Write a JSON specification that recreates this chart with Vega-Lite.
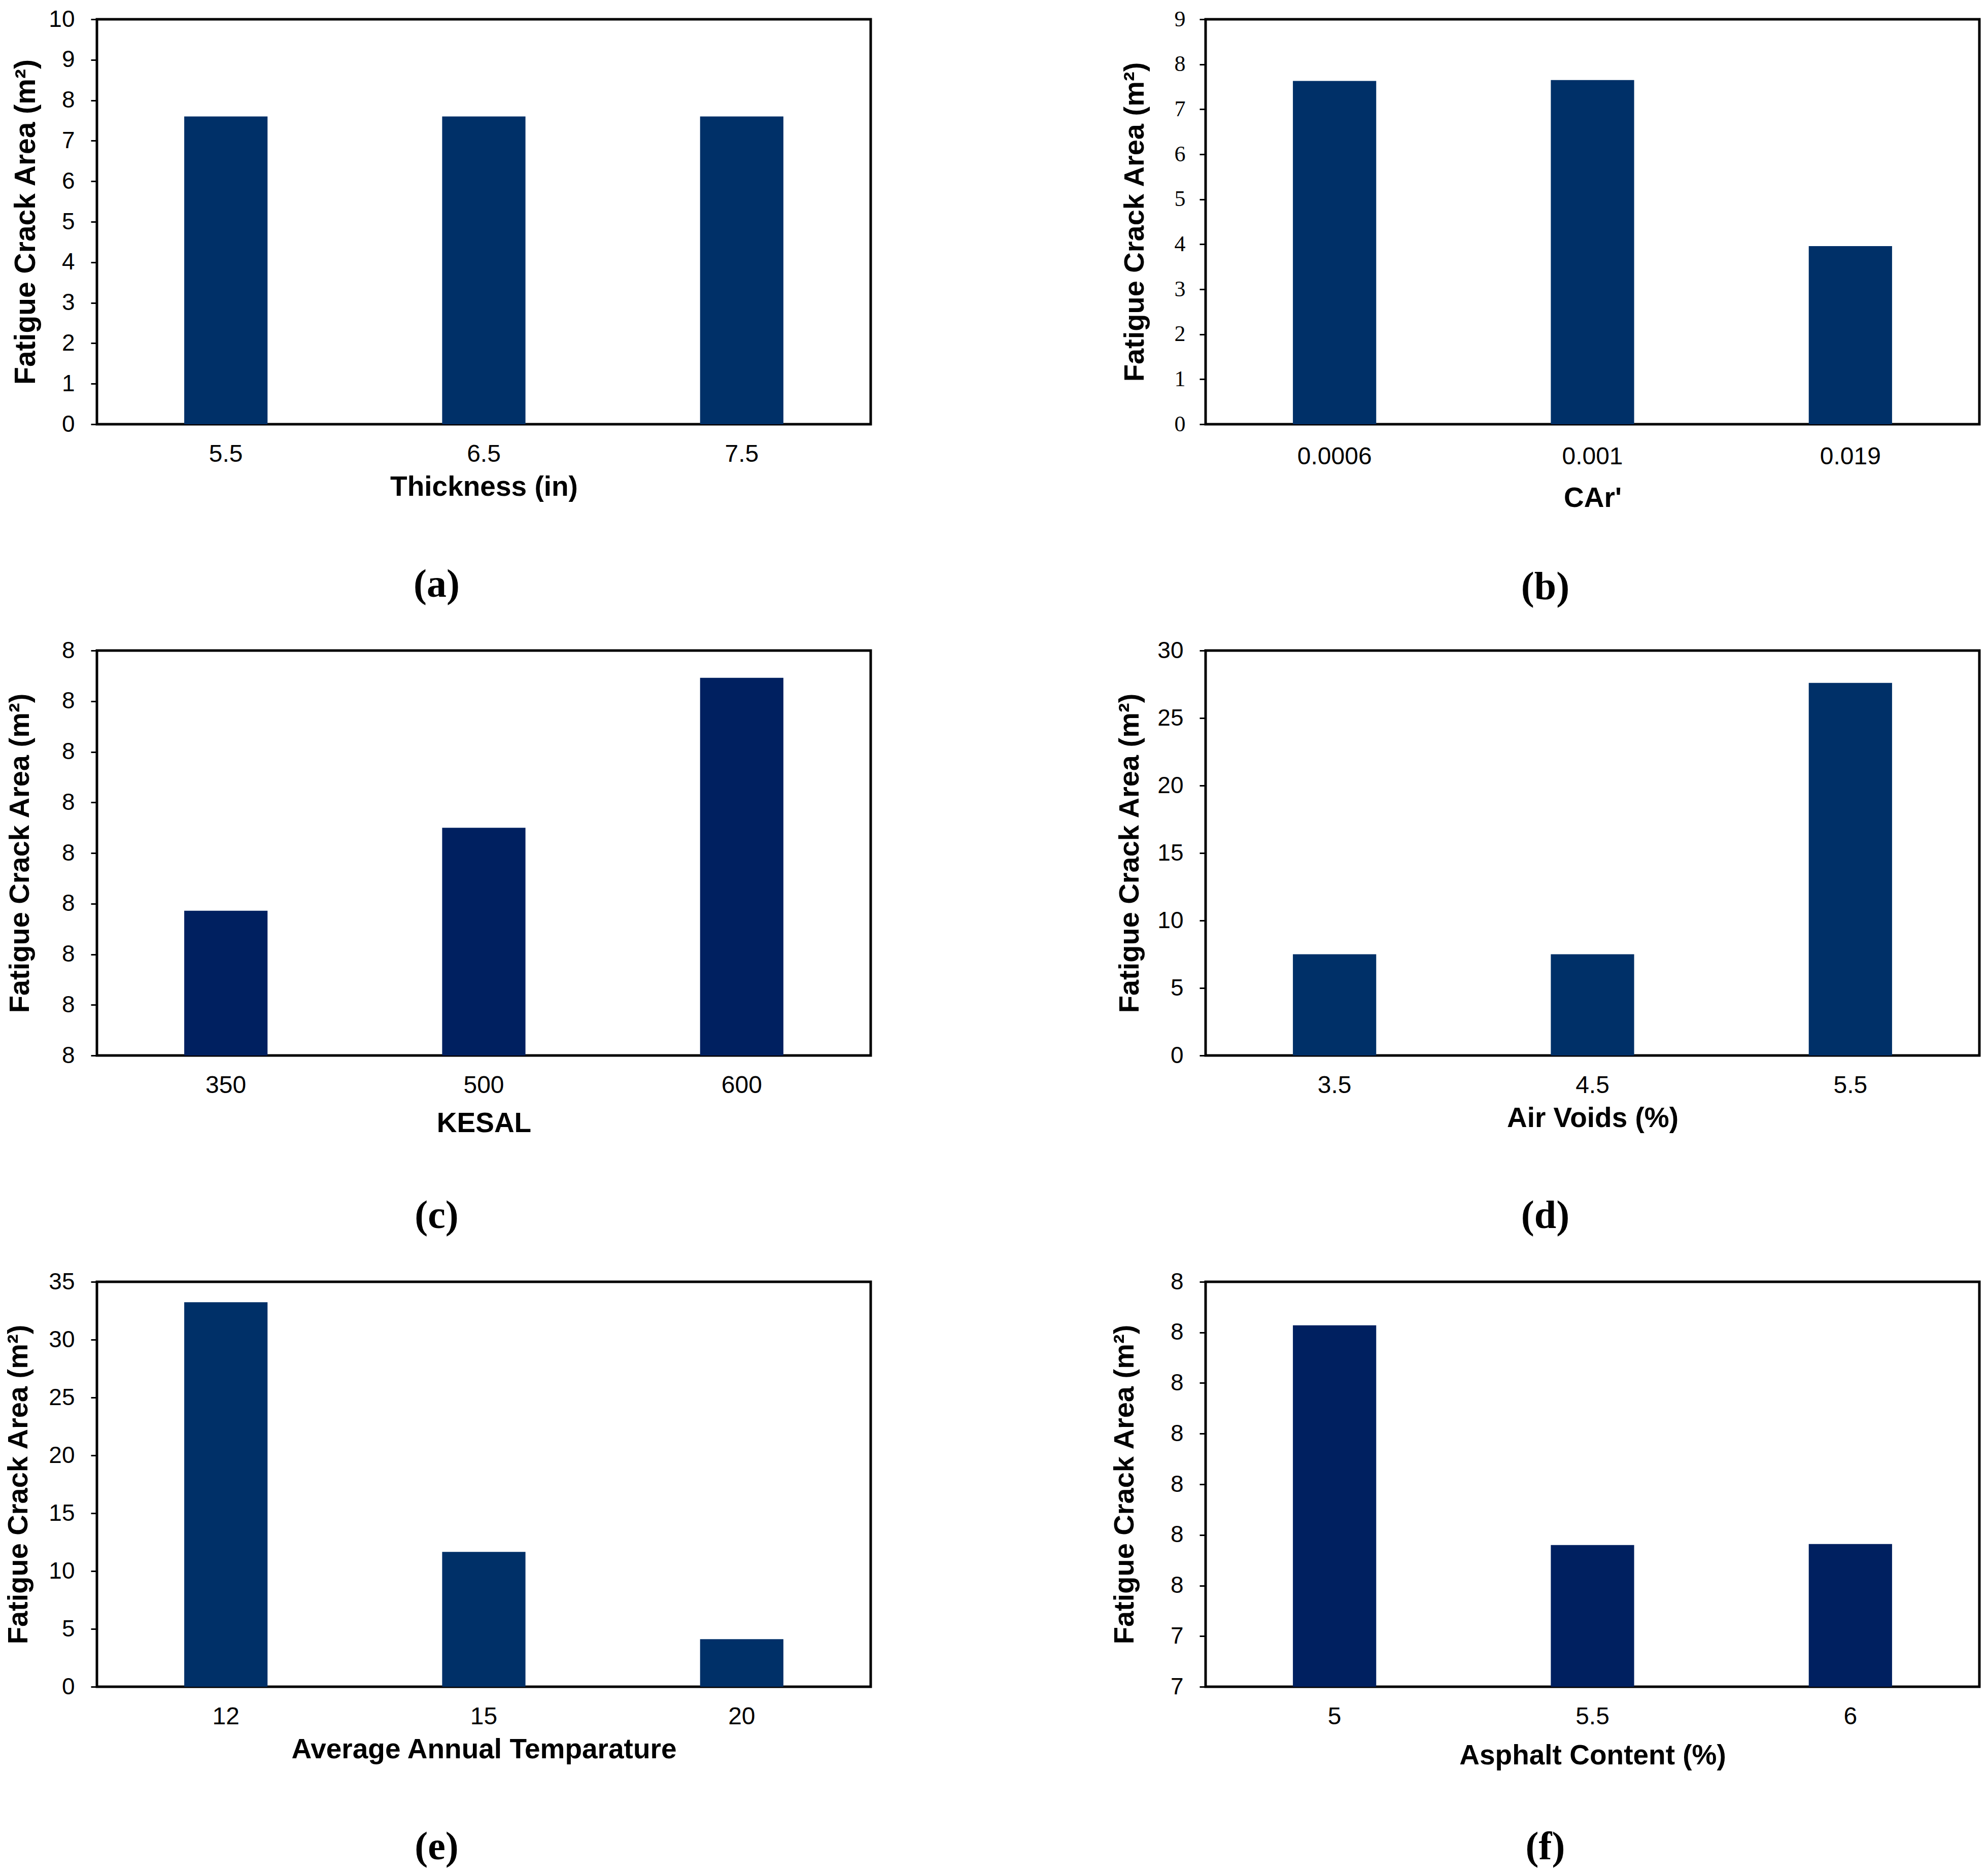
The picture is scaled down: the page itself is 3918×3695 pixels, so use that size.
{
  "$schema": "https://vega.github.io/schema/vega-lite/v6.json",
  "background": "white",
  "padding": {"left": 5, "top": 12, "right": 0, "bottom": 0},
  "columns": 2,
  "bounds": "flush",
  "spacing": {"row": 446, "column": 660},
  "config": {
    "view": {"stroke": "black", "strokeWidth": 5},
    "axis": {"grid": false, "domain": false, "labelFont": "Liberation Sans", "labelColor": "black", "titleFont": "Liberation Sans", "titleFontWeight": "bold", "titleColor": "black", "titleFontSize": 55, "labelFontSize": 48},
    "axisX": {"ticks": false, "tickSize": 0, "labelPadding": 35, "titlePadding": 14, "labelAngle": 0},
    "axisY": {"tickSize": 12, "tickWidth": 3, "tickColor": "black", "labelPadding": 32, "labelOverlap": false, "labelFontSize": 46, "titleFontSize": 56, "titleBaseline": "middle", "titleY": 399},
    "title": {"orient": "bottom", "font": "Liberation Serif", "fontSize": 78, "fontWeight": "bold", "color": "black", "offset": 127, "anchor": "middle", "dx": -93}
  },
  "concat": [
    {
      "width": 1525, "height": 798,
      "title": "(a)",
      "data": {"values": [{"cat": "5.5", "value": 7.6}, {"cat": "6.5", "value": 7.6}, {"cat": "7.5", "value": 7.6}]},
      "mark": {"type": "bar", "color": "#003068"},
      "encoding": {
        "x": {"field": "cat", "type": "ordinal", "sort": null, "scale": {"paddingInner": 0.677, "paddingOuter": 0.3385}, "axis": {"title": "Thickness (in)"}},
        "y": {"field": "value", "type": "quantitative", "scale": {"domain": [0, 10], "nice": false, "zero": true}, "axis": {"title": "Fatigue Crack Area (m²)", "values": [0,1,2,3,4,5,6,7,8,9,10], "titleX": -140, "titleFontSize": 57}}
      }
    },
    {
      "width": 1525, "height": 798,
      "title": {"text": "(b)", "offset": 110},
      "data": {"values": [{"cat": "0.0006", "value": 7.63}, {"cat": "0.001", "value": 7.65}, {"cat": "0.019", "value": 3.96}]},
      "mark": {"type": "bar", "color": "#003068"},
      "encoding": {
        "x": {"field": "cat", "type": "ordinal", "sort": null, "scale": {"paddingInner": 0.677, "paddingOuter": 0.3385}, "axis": {"title": "CAr'", "labelPadding": 40, "titlePadding": 31}},
        "y": {"field": "value", "type": "quantitative", "scale": {"domain": [0, 9], "nice": false}, "axis": {"title": "Fatigue Crack Area (m²)", "values": [0,1,2,3,4,5,6,7,8,9], "titleX": -140, "labelFont": "Liberation Serif", "labelFontSize": 44, "labelPadding": 28}}
      }
    },
    {
      "width": 1525, "height": 798,
      "title": {"text": "(c)", "offset": 117},
      "data": {"values": [{"cat": "350", "value": 7.643}, {"cat": "500", "value": 7.725}, {"cat": "600", "value": 7.873}]},
      "mark": {"type": "bar", "color": "#002060", "clip": true},
      "encoding": {
        "x": {"field": "cat", "type": "ordinal", "sort": null, "scale": {"paddingInner": 0.677, "paddingOuter": 0.3385}, "axis": {"title": "KESAL", "titlePadding": 24}},
        "y": {"field": "value", "type": "quantitative", "scale": {"domain": [7.5, 7.9], "nice": false, "zero": false}, "axis": {"title": "Fatigue Crack Area (m²)", "values": [7.5,7.55,7.6,7.65,7.7,7.75,7.8,7.85,7.9], "format": ".0f", "titleX": -152}}
      }
    },
    {
      "width": 1525, "height": 798,
      "title": "(d)",
      "data": {"values": [{"cat": "3.5", "value": 7.5}, {"cat": "4.5", "value": 7.5}, {"cat": "5.5", "value": 27.6}]},
      "mark": {"type": "bar", "color": "#003068"},
      "encoding": {
        "x": {"field": "cat", "type": "ordinal", "sort": null, "scale": {"paddingInner": 0.677, "paddingOuter": 0.3385}, "axis": {"title": "Air Voids (%)"}},
        "y": {"field": "value", "type": "quantitative", "scale": {"domain": [0, 30], "nice": false}, "axis": {"title": "Fatigue Crack Area (m²)", "values": [0,5,10,15,20,25,30], "titleX": -150}}
      }
    },
    {
      "width": 1525, "height": 798,
      "title": "(e)",
      "data": {"values": [{"cat": "12", "value": 33.24}, {"cat": "15", "value": 11.66}, {"cat": "20", "value": 4.11}]},
      "mark": {"type": "bar", "color": "#003068"},
      "encoding": {
        "x": {"field": "cat", "type": "ordinal", "sort": null, "scale": {"paddingInner": 0.677, "paddingOuter": 0.3385}, "axis": {"title": "Average Annual Temparature"}},
        "y": {"field": "value", "type": "quantitative", "scale": {"domain": [0, 35], "nice": false}, "axis": {"title": "Fatigue Crack Area (m²)", "values": [0,5,10,15,20,25,30,35], "titleX": -155}}
      }
    },
    {
      "width": 1525, "height": 798,
      "title": {"text": "(f)", "offset": 115},
      "data": {"values": [{"cat": "5", "value": 7.757}, {"cat": "5.5", "value": 7.54}, {"cat": "6", "value": 7.541}]},
      "mark": {"type": "bar", "color": "#002060", "clip": true},
      "encoding": {
        "x": {"field": "cat", "type": "ordinal", "sort": null, "scale": {"paddingInner": 0.677, "paddingOuter": 0.3385}, "axis": {"title": "Asphalt Content (%)", "titlePadding": 26}},
        "y": {"field": "value", "type": "quantitative", "scale": {"domain": [7.4, 7.8], "nice": false, "zero": false}, "axis": {"title": "Fatigue Crack Area (m²)", "values": [7.4,7.45,7.5,7.55,7.6,7.65,7.7,7.75,7.8], "format": ".0f", "titleX": -160}}
      }
    }
  ]
}
